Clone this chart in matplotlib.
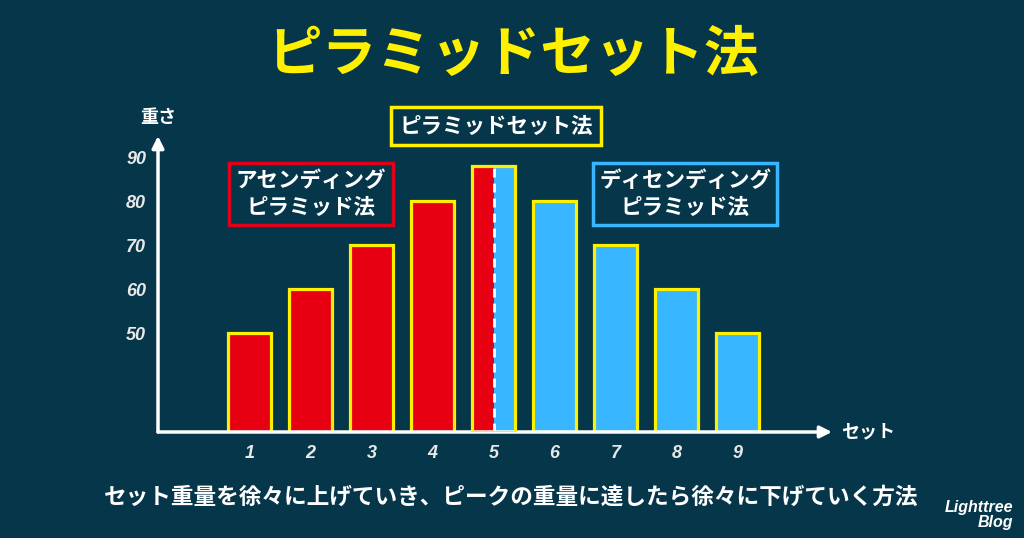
import matplotlib
matplotlib.use("Agg")
import matplotlib.pyplot as plt

plt.rcParams['font.family'] = ['Noto Sans CJK JP', 'DejaVu Sans']

# ---- data ----
sets = [1, 2, 3, 4, 5, 6, 7, 8, 9]
weights = [50, 60, 70, 80, 88, 80, 70, 60, 50]
phase = ['asc', 'asc', 'asc', 'asc', 'peak', 'desc', 'desc', 'desc', 'desc']
y_ticks = [50, 60, 70, 80, 90]
x_tick_labels = ['1', '2', '3', '4', '5', '6', '7', '8', '9']
title = 'ピラミッドセット法'
asc_label = 'アセンディング\nピラミッド法'
desc_label = 'ディセンディング\nピラミッド法'
caption = 'セット重量を徐々に上げていき、ピークの重量に達したら徐々に下げていく方法'

BG = '#05364a'
RED = '#e60012'
BLUE = '#38b6ff'
YEL = '#fff000'
WHITE = '#ffffff'
TICK = '#e8e8e8'

base = 27.5
W, H = 1024, 538
fig = plt.figure(figsize=(W / 100, H / 100), dpi=100, facecolor=BG)
ax = fig.add_axes([158 / W, 1 - 432 / H, 671 / W, 296 / H])
ax.set_facecolor(BG)
ax.set_xlim(-0.5, 10.5)
ax.set_ylim(base, base + 296 / 4.4)

bw = 0.7
for x, v, p in zip(sets, weights, phase):
    h = v - base
    if p == 'peak':
        ax.bar(x - bw / 4, h, width=bw / 2, bottom=base, color=RED, linewidth=0, zorder=2)
        ax.bar(x + bw / 4, h, width=bw / 2, bottom=base, color=BLUE, linewidth=0, zorder=2)
        ax.plot([x, x], [base, v], color=WHITE, lw=2, ls=(0, (3.2, 2.2)), zorder=3)
        ax.bar(x, h, width=bw, bottom=base, facecolor='none', edgecolor=YEL, linewidth=2.3, zorder=4)
    else:
        c = RED if p == 'asc' else BLUE
        ax.bar(x, h, width=bw, bottom=base, color=c, edgecolor=YEL, linewidth=2.3, zorder=2)

for s in ax.spines.values():
    s.set_visible(False)
ax.set_xticks(sets)
ax.set_xticklabels(x_tick_labels)
ax.set_yticks(y_ticks)
ax.set_yticklabels([str(t) for t in y_ticks])
ax.tick_params(length=0, colors=TICK)
for lab in ax.get_xticklabels() + ax.get_yticklabels():
    lab.set_fontfamily('Liberation Sans')
    lab.set_fontstyle('italic')
    lab.set_fontweight('bold')
    lab.set_fontsize(13)
    lab.set_color(TICK)
ax.tick_params(axis='x', pad=9)
ax.tick_params(axis='y', pad=8.5)

# axis arrows
ax.annotate('', xy=(1.0 + 3 / 671, 0), xytext=(0, 0), xycoords='axes fraction',
            arrowprops=dict(arrowstyle='-|>,head_length=0.7,head_width=0.35', color=WHITE, lw=2.5,
                            shrinkA=0, shrinkB=0), annotation_clip=False)
ax.annotate('', xy=(0, 1.0), xytext=(0, 0), xycoords='axes fraction',
            arrowprops=dict(arrowstyle='-|>,head_length=0.7,head_width=0.35', color=WHITE, lw=2.5,
                            shrinkA=0, shrinkB=0), annotation_clip=False)

def ft(x, y, s, **kw):
    fig.text(x / W, 1 - y / H, s, **kw)

ft(513, 55, title, color=YEL, fontsize=39.3, fontweight='bold', ha='center', va='center')
ft(158, 117, '重さ', color=WHITE, fontsize=13, fontweight='bold', ha='center', va='center')
ft(868, 432, 'セット', color=WHITE, fontsize=13, fontweight='bold', ha='center', va='center')

ft(496, 126, 'ピラミッドセット法', color=WHITE, fontsize=15.5, fontweight='bold', ha='center', va='center',
   bbox=dict(boxstyle='square,pad=0.4', facecolor=BG, edgecolor=YEL, lw=2.5))
ft(311, 194, asc_label, color=WHITE, fontsize=15.5, fontweight='bold', ha='center', va='center',
   linespacing=1.38, bbox=dict(boxstyle='square,pad=0.3', facecolor=BG, edgecolor='#e0001a', lw=2.5))
ft(685, 194, desc_label, color=WHITE, fontsize=15.5, fontweight='bold', ha='center', va='center',
   linespacing=1.38, bbox=dict(boxstyle='square,pad=0.3', facecolor=BG, edgecolor=BLUE, lw=2.5))

ft(511, 497, caption, color=WHITE, fontsize=16.3, fontweight='bold', ha='center', va='center')
ft(1013, 515, 'Lighttree\nBlog', color=WHITE, fontsize=11.5, fontweight='bold', fontstyle='italic',
   family='Liberation Sans', ha='right', va='center', linespacing=1.0)

fig.savefig('out.png', dpi=100, facecolor=BG)
